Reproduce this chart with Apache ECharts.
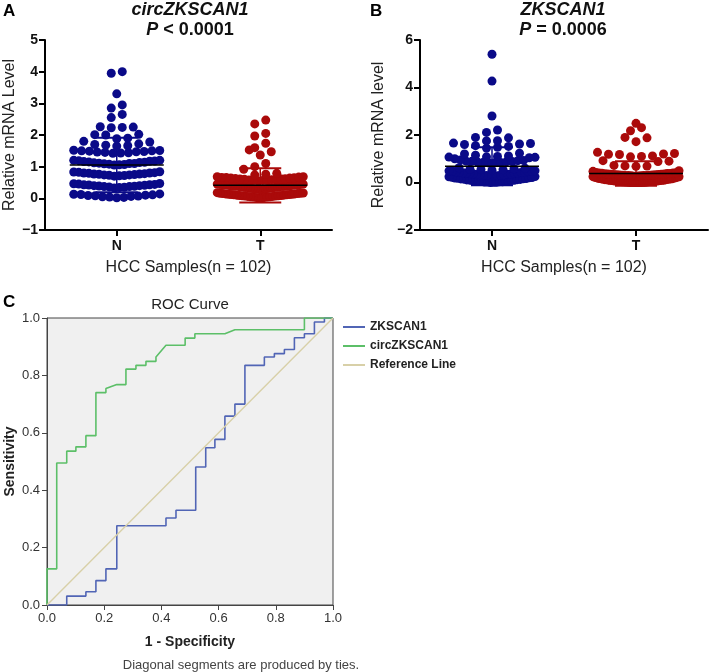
<!DOCTYPE html>
<html><head><meta charset="utf-8">
<script src="https://cdn.jsdelivr.net/npm/echarts@6.0.0/dist/echarts.min.js"></script>
<style>html,body{margin:0;padding:0;background:#fff}#c{width:709px;height:672px}</style>
</head><body><div id="c"></div>
<script>
// ---------- data ----------
const groups = ['N', 'T'];
const circN = [4.0, 3.95, 3.3, 2.95, 2.85, 2.65, 2.55,
  2.25, 2.26, 2.23, 2.24,
  2.0, 2.02, 2.01, 1.9, 1.88, 1.78, 1.8,
  1.66, 1.68, 1.7, 1.65, 1.72,
  1.42, 1.43, 1.45, 1.44, 1.46, 1.48, 1.47, 1.49, 1.5, 1.5, 1.51, 1.52,
  1.05, 1.06, 1.08, 1.07, 1.09, 1.1, 1.1, 1.11, 1.13, 1.12, 1.14, 1.15, 1.16, 1.18, 1.17, 1.19, 1.2, 1.2,
  0.7, 0.71, 0.72, 0.74, 0.73, 0.74, 0.75, 0.76, 0.77, 0.77, 0.79, 0.78, 0.8, 0.8, 0.81, 0.82, 0.84, 0.83,
  0.33, 0.34, 0.35, 0.36, 0.37, 0.37, 0.39, 0.38, 0.4, 0.4, 0.41, 0.42, 0.43, 0.43, 0.44, 0.45, 0.47, 0.46,
  0.02, 0.03, 0.04, 0.05, 0.06, 0.08, 0.07, 0.09, 0.1, 0.11, 0.12, 0.14, 0.13];
const circT = [2.47, 2.35, 2.05, 1.97, 1.74, 1.6, 1.53, 1.47, 1.37,
  1.1, 1.0, 0.92, 0.79, 0.76, 0.74,
  0.55, 0.56, 0.57, 0.58, 0.58, 0.59, 0.6, 0.6, 0.61, 0.62, 0.62, 0.63, 0.64, 0.64, 0.65, 0.66, 0.66, 0.67, 0.68, 0.68,
  0.27, 0.28, 0.29, 0.3, 0.3, 0.31, 0.31, 0.32, 0.33, 0.33, 0.34, 0.34, 0.35, 0.35, 0.36, 0.36, 0.37, 0.37,
  0.38, 0.38, 0.38, 0.39, 0.39, 0.4, 0.4, 0.41, 0.41, 0.42, 0.42, 0.43, 0.43, 0.44, 0.44, 0.45, 0.45,
  0.01, 0.02, 0.03, 0.03, 0.04, 0.04, 0.05, 0.05, 0.06, 0.06, 0.07, 0.07, 0.08, 0.08, 0.09, 0.09,
  0.1, 0.1, 0.11, 0.11, 0.12, 0.12, 0.13, 0.13, 0.14, 0.14, 0.15, 0.15, 0.16, 0.16, 0.17, 0.18];
const zkN = [5.4, 4.27, 2.8, 2.21, 2.11,
  1.9, 1.88, 1.76, 1.75, 1.66, 1.64, 1.62, 1.6, 1.55, 1.52, 1.48, 1.45,
  1.23, 1.2, 1.15, 1.12, 1.1, 1.08, 1.07, 1.06, 1.04, 1.0,
  0.95, 0.93, 0.92, 0.9, 0.89, 0.88, 0.87, 0.86, 0.85, 0.84, 0.83, 0.82,
  0.62, 0.6, 0.58, 0.56, 0.55, 0.54, 0.52, 0.5, 0.49, 0.48, 0.47, 0.46, 0.45, 0.44, 0.43,
  0.42, 0.41, 0.4, 0.4, 0.39, 0.38, 0.37, 0.36, 0.35, 0.34, 0.33, 0.32, 0.31, 0.3, 0.29, 0.28, 0.27, 0.26, 0.25, 0.24,
  0.22, 0.21, 0.2, 0.19, 0.18, 0.17, 0.16, 0.15, 0.14, 0.13, 0.12, 0.11, 0.1, 0.09, 0.08, 0.07,
  0.06, 0.05, 0.05, 0.04, 0.04, 0.03, 0.03, 0.02, 0.02, 0.01, 0.01, 0.0];
const zkT = [2.49, 2.31, 2.18, 1.9, 1.88, 1.72,
  1.27, 1.22, 1.2, 1.19, 1.18, 1.12, 1.1, 1.08,
  0.92, 0.9, 0.88, 0.72, 0.7, 0.69, 0.68, 0.5, 0.47,
  0.42, 0.41, 0.4, 0.4, 0.39, 0.38, 0.38, 0.37, 0.36, 0.36, 0.35, 0.35, 0.34, 0.34, 0.33, 0.33,
  0.32, 0.32, 0.31, 0.31, 0.3, 0.3, 0.29, 0.29, 0.28, 0.28, 0.27, 0.26, 0.25, 0.24,
  0.23, 0.22, 0.21, 0.2, 0.19, 0.18, 0.17, 0.16, 0.15, 0.15, 0.14, 0.14, 0.13, 0.12, 0.12, 0.11,
  0.1, 0.1, 0.09, 0.09, 0.08, 0.08, 0.07, 0.07, 0.06, 0.06, 0.06, 0.05, 0.05, 0.05, 0.04, 0.04,
  0.04, 0.03, 0.03, 0.03, 0.02, 0.02, 0.02, 0.01, 0.01, 0.01, 0.0, 0.0, 0.0, 0.0, 0.0, 0.0, 0.0];
const circMean = [1.05, 0.41];
const circSD = [0.86, 0.54];
const zkMean = [0.68, 0.38];
const zkSD = [0.80, 0.52];
const circTicks = [-1, 0, 1, 2, 3, 4, 5];
const zkTicks = [-2, 0, 2, 4, 6];
const rocTicks = [0, 0.2, 0.4, 0.6, 0.8, 1.0];
// ROC vertices (1 - specificity, sensitivity)
const zkFpr = [0, 0.069, 0.069, 0.136, 0.136, 0.171, 0.171, 0.206, 0.206, 0.244, 0.244, 0.416, 0.416, 0.451, 0.451, 0.52, 0.52, 0.555, 0.555, 0.587, 0.587, 0.622, 0.622, 0.657, 0.657, 0.692, 0.692, 0.76, 0.76, 0.795, 0.795, 0.83, 0.83, 0.865, 0.865, 0.9, 0.9, 0.935, 0.935, 0.97, 0.97, 1.0];
const zkTpr = [0, 0, 0.031, 0.031, 0.046, 0.046, 0.085, 0.085, 0.126, 0.126, 0.276, 0.276, 0.303, 0.303, 0.33, 0.33, 0.481, 0.481, 0.548, 0.548, 0.577, 0.577, 0.658, 0.658, 0.7, 0.7, 0.835, 0.835, 0.864, 0.864, 0.876, 0.876, 0.89, 0.89, 0.931, 0.931, 0.945, 0.945, 0.986, 0.986, 1.0, 1.0];
const circFpr = [0, 0, 0.034, 0.034, 0.069, 0.069, 0.101, 0.101, 0.136, 0.136, 0.171, 0.171, 0.206, 0.206, 0.244, 0.276, 0.276, 0.311, 0.311, 0.346, 0.346, 0.381, 0.381, 0.416, 0.483, 0.483, 0.517, 0.517, 0.622, 0.657, 0.9, 0.9, 1.0];
const circTpr = [0, 0.126, 0.126, 0.495, 0.495, 0.536, 0.536, 0.551, 0.551, 0.59, 0.59, 0.74, 0.74, 0.754, 0.768, 0.768, 0.822, 0.822, 0.835, 0.835, 0.849, 0.849, 0.864, 0.905, 0.905, 0.93, 0.93, 0.945, 0.945, 0.959, 0.959, 1.0, 1.0];
const refFpr = [0, 1];
const refTpr = [0, 1];
const rocNames = ['ZKSCAN1', 'circZKSCAN1', 'Reference Line'];

// ---------- layout / style ----------
const FONT = '"Liberation Sans", Arial, sans-serif';
const NAVY = '#0a0a88', RED = '#aa0a0a';
const gridA = {left: 45, top: 40, width: 287, height: 190};
const gridB = {left: 420, top: 40, width: 288, height: 190};
const gridC = {left: 47, top: 318, width: 286, height: 287};
const DOT = 9, ROW_SPAN = 6, SPACING = 11, MAXW = 86;

function offsets(n) {
  const out = [];
  if (n % 2) { out.push(0); for (let m = 1; out.length < n; m++) { out.push(m % 2 ? m : -m); if (out.length < n) out.push(m % 2 ? -m : m); } }
  else { for (let m = 0; out.length < n; m++) { const h = m + 0.5; out.push(m % 2 ? h : -h); if (out.length < n) out.push(m % 2 ? -h : h); } }
  return out;
}
function swarm(values, center, pxPerX, pxPerY) {
  const s = values.slice().sort((a, b) => a - b);
  const rows = []; let cur = [];
  s.forEach(v => { if (cur.length && (v - cur[0]) * pxPerY > ROW_SPAN) { rows.push(cur); cur = []; } cur.push(v); });
  if (cur.length) rows.push(cur);
  const pts = [];
  rows.forEach(r => {
    const n = r.length;
    const sp = n > 1 ? Math.min(SPACING, MAXW / (n - 1)) : 0;
    const off = offsets(n);
    r.forEach((v, k) => pts.push([center + off[k] * sp / pxPerX, v]));
  });
  return pts;
}
const minus = v => (v < 0 ? '\u2212' + Math.abs(v) : String(v));

function groupAxis(gi, name) {
  const pos = groups.map((g, i) => i + 0.5);
  return {gridIndex: gi, type: 'value', min: 0, max: groups.length, splitLine: {show: false},
    axisLine: {show: true, onZero: false, lineStyle: {color: '#000', width: 2}},
    axisTick: {show: true, customValues: pos, length: 6, lineStyle: {color: '#000', width: 2}},
    axisLabel: {show: true, customValues: pos, formatter: v => groups[Math.floor(v)], fontSize: 14, fontWeight: 'bold', color: '#111', fontFamily: FONT, margin: 9},
    name: name, nameLocation: 'middle', nameGap: 30, nameTextStyle: {fontSize: 16, color: '#222', fontFamily: FONT}};
}
function levelAxis(gi, ticks, name, gap) {
  return {gridIndex: gi, type: 'value', min: ticks[0], max: ticks[ticks.length - 1], interval: ticks[1] - ticks[0],
    splitLine: {show: false},
    axisLine: {show: true, onZero: false, lineStyle: {color: '#000', width: 2}},
    axisTick: {show: true, length: 6, lineStyle: {color: '#000', width: 2}},
    axisLabel: {formatter: minus, fontSize: 14, fontWeight: 'bold', color: '#111', fontFamily: FONT, margin: 7},
    name: name, nameLocation: 'middle', nameGap: gap, nameTextStyle: {fontSize: 16, color: '#222', fontFamily: FONT}};
}
function rocAxis(gi, name) {
  return {gridIndex: gi, type: 'value', min: rocTicks[0], max: rocTicks[rocTicks.length - 1], interval: rocTicks[1] - rocTicks[0],
    splitLine: {show: false},
    axisLine: {show: true, onZero: false, lineStyle: {color: '#444', width: 1}},
    axisTick: {show: true, length: 5, lineStyle: {color: '#444'}},
    axisLabel: {formatter: v => v.toFixed(1), fontSize: 13, color: '#333', fontFamily: FONT, margin: 7},
    name: name, nameLocation: 'middle', nameGap: 30, nameTextStyle: {fontSize: 14, fontWeight: 'bold', color: '#222', fontFamily: FONT}};
}
function errBars(xi, yi, means, sds) {
  const cols = [NAVY, RED];
  return {type: 'custom', xAxisIndex: xi, yAxisIndex: yi, z: 5, silent: true,
    data: means.map((m, i) => [i + 0.5, m, sds[i]]),
    renderItem: (params, api) => {
      const x = api.value(0), m = api.value(1), s = api.value(2);
      const c = api.coord([x, m]), t = api.coord([x, m + s]), b = api.coord([x, m - s]);
      const col = cols[params.dataIndex];
      return {type: 'group', children: [
        {type: 'line', shape: {x1: c[0], y1: t[1], x2: c[0], y2: b[1]}, style: {stroke: col, lineWidth: 1.5}},
        {type: 'line', shape: {x1: c[0] - 21, y1: t[1], x2: c[0] + 21, y2: t[1]}, style: {stroke: col, lineWidth: 2}},
        {type: 'line', shape: {x1: c[0] - 21, y1: b[1], x2: c[0] + 21, y2: b[1]}, style: {stroke: col, lineWidth: 2}},
        {type: 'line', shape: {x1: c[0] - 47, y1: c[1], x2: c[0] + 47, y2: c[1]}, style: {stroke: '#000', lineWidth: 1.5}}
      ]};
    }};
}
const pxA = [gridA.width / groups.length, gridA.height / (circTicks[circTicks.length - 1] - circTicks[0])];
const pxB = [gridB.width / groups.length, gridB.height / (zkTicks[zkTicks.length - 1] - zkTicks[0])];
const zip = (a, b) => a.map((v, i) => [v, b[i]]);
const scat = (xi, data, color) => ({type: 'scatter', xAxisIndex: xi, yAxisIndex: xi, data: data, symbolSize: DOT, itemStyle: {color: color, opacity: 1}, z: 2, silent: true});
const rocLine = (name, data, color, w) => ({type: 'line', name: name, xAxisIndex: 2, yAxisIndex: 2, data: data, showSymbol: false, symbol: 'none', lineStyle: {color: color, width: w}, itemStyle: {color: color}, z: 3});

const txt = (text, x, y, font, fill, align, extra) => ({type: 'text', x: x, y: y, style: Object.assign({text: text, font: font, fill: fill || '#111', align: align || 'center', verticalAlign: 'middle'}, extra || {})});
const titleRich = {i: {fontStyle: 'italic', fontWeight: 'bold', fontSize: 18, fontFamily: FONT, fill: '#111'}, b: {fontWeight: 'bold', fontSize: 18, fontFamily: FONT, fill: '#111'}};

const option = {
  animation: false,
  backgroundColor: '#fff',
  grid: [
    Object.assign({containLabel: false}, gridA),
    Object.assign({containLabel: false}, gridB),
    Object.assign({containLabel: false, show: true, backgroundColor: '#f0f0f0', borderColor: '#444', borderWidth: 1}, gridC)
  ],
  xAxis: [groupAxis(0, 'HCC Samples(n = 102)'), groupAxis(1, 'HCC Samples(n = 102)'), rocAxis(2, '1 - Specificity')],
  yAxis: [levelAxis(0, circTicks, 'Relative mRNA Level', 27), levelAxis(1, zkTicks, 'Relative mRNA level', 33), rocAxis(2, 'Sensitivity')],
  legend: {data: rocNames, orient: 'vertical', left: 343, top: 321, padding: 0, itemWidth: 22, itemHeight: 2, icon: 'rect', itemGap: 7, selectedMode: false,
    textStyle: {fontSize: 12, fontWeight: 'bold', color: '#222', fontFamily: FONT}},
  graphic: [
    txt('A', 3, 11, 'bold 17px ' + FONT, '#000', 'left'),
    txt('B', 370, 11, 'bold 17px ' + FONT, '#000', 'left'),
    txt('C', 3, 302, 'bold 17px ' + FONT, '#000', 'left'),
    txt('circZKSCAN1', 190, 10, 'italic bold 18px ' + FONT),
    txt('{i|P}{b| < 0.0001}', 190, 30, 'bold 18px ' + FONT, '#111', 'center', {rich: titleRich}),
    txt('ZKSCAN1', 563, 10, 'italic bold 18px ' + FONT),
    txt('{i|P}{b| = 0.0006}', 563, 30, 'bold 18px ' + FONT, '#111', 'center', {rich: titleRich}),
    txt('ROC Curve', 190, 305, '15px ' + FONT, '#222'),
    txt('Diagonal segments are produced by ties.', 241, 665, '13px ' + FONT, '#444')
  ],
  series: [
    scat(0, swarm(circN, 0.5, pxA[0], pxA[1]), NAVY),
    scat(0, swarm(circT, 1.5, pxA[0], pxA[1]), RED),
    errBars(0, 0, circMean, circSD),
    scat(1, swarm(zkN, 0.5, pxB[0], pxB[1]), NAVY),
    scat(1, swarm(zkT, 1.5, pxB[0], pxB[1]), RED),
    errBars(1, 1, zkMean, zkSD),
    rocLine(rocNames[0], zip(zkFpr, zkTpr), '#5165b5', 1.6),
    rocLine(rocNames[1], zip(circFpr, circTpr), '#5cbf68', 1.6),
    rocLine(rocNames[2], zip(refFpr, refTpr), '#d8d0a8', 1.4)
  ]
};
const chart = echarts.init(document.getElementById('c'), null, {renderer: 'canvas'});
chart.setOption(option);
</script></body></html>
